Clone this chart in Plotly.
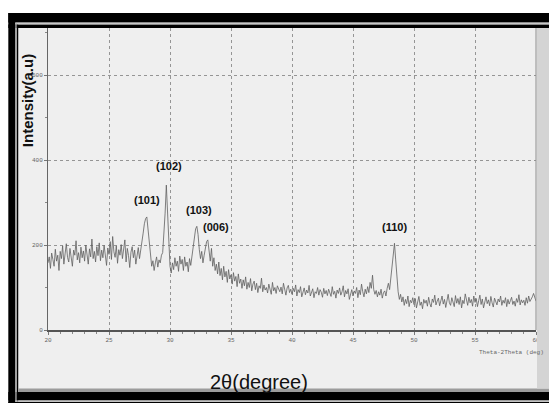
import numpy as np
import plotly.graph_objects as go

# 2-theta from 20.0 to 60.0 in 0.1 degree steps
two_theta_start = 20.0
two_theta_step = 0.1
intensity = [
    158, 172, 145, 181, 166, 150, 190, 162, 176, 140,   # 20
    185, 168, 198, 155, 179, 203, 171, 160, 192, 174,   # 21
    150, 188, 176, 210, 165, 182, 158, 195, 170, 186,   # 22
    162, 200, 178, 155, 191, 172, 214, 168, 185, 160,   # 23
    196, 175, 205, 163, 188, 170, 199, 181, 152, 193,   # 24
    178, 208, 166, 220, 184, 171, 198, 157, 189, 176,   # 25
    201, 168, 185, 212, 160, 192, 175, 147, 183, 196,   # 26
    170, 188, 155, 176, 194, 168, 185, 205, 228, 250,   # 27
    262, 266, 240, 205, 172, 150, 163, 140, 158, 172,   # 28
    148, 165, 158, 176, 182, 220, 275, 341, 285, 200,   # 29
    150, 134, 158, 142, 170, 150, 162, 138, 174, 155,   # 30
    166, 140, 172, 150, 160, 137, 168, 152, 175, 190,   # 31
    215, 238, 244, 225, 190, 168, 185, 158, 176, 196,   # 32
    208, 212, 180, 162, 192, 150, 170, 140, 155, 132,   # 33
    160, 128, 145, 118, 150, 125, 138, 112, 142, 120,   # 34
    130, 108, 135, 115, 126, 102, 132, 110, 120, 98,    # 35
    118, 104, 125, 96, 112, 100, 121, 92, 108, 115,     # 36
    95, 110, 88, 104, 98, 122, 90, 106, 94, 100,        # 37
    87, 108, 96, 84, 112, 92, 100, 86, 104, 95,         # 38
    90, 101, 85, 110, 93, 82, 99, 105, 88, 96,          # 39
    84, 98, 90, 106, 80, 95, 88, 102, 78, 92,           # 40
    99, 83, 94, 87, 105, 80, 92, 97, 76, 90,            # 41
    86, 100, 82, 95, 89, 77, 98, 85, 93, 81,            # 42
    96, 88, 79, 102, 84, 91, 75, 94, 86, 99,            # 43
    82, 90, 104, 78, 93, 85, 97, 72, 88, 95,            # 44
    80, 92, 86, 100, 76, 94, 83, 108, 90, 78,           # 45
    96, 85, 102, 88, 112, 98, 129, 95, 84, 93,          # 46
    78, 90, 82, 96, 75, 88, 92, 80, 98, 110,            # 47
    95, 120, 158, 185, 204, 165, 118, 90, 72, 84,       # 48
    66, 78, 58, 72, 62, 80, 55, 70, 64, 76,             # 49
    60, 74, 52, 68, 79, 58, 66, 50, 72, 63,             # 50
    70, 56, 77, 62, 54, 73, 65, 82, 59, 68,             # 51
    75, 57, 66, 80, 61, 72, 53, 69, 84, 64,             # 52
    58, 76, 67, 55, 81, 63, 74, 60, 78, 52,             # 53
    70, 62, 85, 66, 58, 77, 64, 72, 56, 80,             # 54
    65, 74, 55, 69, 82, 60, 73, 52, 67, 78,             # 55
    62, 71, 57, 79, 64, 54, 75, 68, 59, 73,             # 56
    66, 80, 58, 70, 63, 76, 55, 72, 61, 69,             # 57
    77, 60, 68, 56, 74, 65, 83, 59, 71, 64,             # 58
    70, 58, 76, 63, 80, 67, 72, 78, 86, 74,             # 59
    68,                                                 # 60
]
two_theta = [round(two_theta_start + i * two_theta_step, 1) for i in range(len(intensity))]

peak_labels = ["(101)", "(102)", "(103)", "(006)", "(110)"]
peak_label_x = [28.1, 29.9, 32.4, 33.8, 48.4]
peak_label_y = [306, 386, 282, 242, 242]

x_ticks = [20, 25, 30, 35, 40, 45, 50, 55, 60]
y_ticks = [0, 200, 400, 600]

W, H = 549, 403
ML, MR, MT, MB = 48, 9, 28, 73
PW, PH = W - ML - MR, H - MT - MB


def fx(p):
    return (p - ML) / PW


def fy(p):
    return (H - MB - p) / PH


fig = go.Figure()
fig.add_trace(go.Scatter(
    x=two_theta, y=intensity, mode="lines",
    line=dict(color="#606060", width=0.8),
    hoverinfo="skip", showlegend=False,
))


def rect(x0, x1, y0, y1, color, layer="below"):
    return dict(type="rect", xref="paper", yref="paper", layer=layer,
                x0=fx(x0), x1=fx(x1), y0=fy(y0), y1=fy(y1),
                fillcolor=color, line=dict(width=0))


shapes = [
    # white margin outside the scanned frame
    rect(0, 560, -5, 13, "white"),
    rect(-5, 8, -5, 410, "white"),
    # black frame bands
    rect(8, 560, 13, 22.5, "black"),
    rect(8, 560, 24.5, 28, "black"),
    rect(8, 15, 13, 410, "black"),
    rect(16.5, 18, 24.5, 410, "black"),
    rect(8, 560, 392, 400.5, "black"),
    rect(8, 560, 401.8, 410, "black"),
    # bottom gray band
    rect(18, 560, 388.5, 392, "#9c9c9c"),
    # right shading (scan edge)
    rect(541, 560, 28, 388.5, "#d4d4d4", layer="above"),
]
shapes.append(dict(type="line", xref="paper", yref="paper", layer="below",
                   x0=fx(15), x1=fx(560), y0=fy(23.5), y1=fy(23.5),
                   line=dict(color="#c8c8c8", width=1.5)))
shapes.append(dict(type="line", xref="paper", yref="paper", layer="below",
                   x0=fx(15.7), x1=fx(15.7), y0=fy(23.5), y1=fy(401),
                   line=dict(color="#9a9a9a", width=1.5)))
shapes.append(dict(type="line", xref="paper", yref="paper", layer="below",
                   x0=fx(15), x1=fx(560), y0=fy(401.2), y1=fy(401.2),
                   line=dict(color="#c8c8c8", width=1.2)))
# right plot border
shapes.append(dict(type="line", xref="paper", yref="paper", layer="above",
                   x0=1, x1=1, y0=0, y1=1,
                   line=dict(color="#8c8c8c", width=1)))

annotations = []
for t, xv, yv in zip(peak_labels, peak_label_x, peak_label_y):
    annotations.append(dict(x=xv, y=yv, xref="x", yref="y", text="<b>" + t + "</b>",
                            showarrow=False,
                            font=dict(family="Liberation Sans Narrow, Liberation Sans, Arial",
                                      size=11, color="#111111"),
                            xanchor="center", yanchor="middle"))
annotations.append(dict(x=fx(261), y=fy(382), xref="paper", yref="paper",
                        text="2θ(degree)", showarrow=False,
                        font=dict(family="Liberation Sans Narrow, Liberation Sans, Arial",
                                  size=20, color="#111111"),
                        xanchor="center", yanchor="middle"))
annotations.append(dict(x=fx(27), y=fy(101), xref="paper", yref="paper",
                        text="<b>Intensity(a.u)</b>", showarrow=False, textangle=-90,
                        font=dict(family="Liberation Sans, Arial", size=15, color="#111111"),
                        xanchor="center", yanchor="middle"))
annotations.append(dict(x=fx(515), y=fy(352), xref="paper", yref="paper",
                        text="Theta-2Theta (deg)", showarrow=False,
                        font=dict(family="Liberation Mono, DejaVu Sans Mono", size=6,
                                  color="#666666"),
                        xanchor="center", yanchor="middle"))

fig.update_layout(
    width=W, height=H,
    margin=dict(l=ML, r=MR, t=MT, b=MB, pad=0),
    paper_bgcolor="#efefef",
    plot_bgcolor="rgba(0,0,0,0)",
    shapes=shapes,
    annotations=annotations,
    showlegend=False,
    xaxis=dict(
        range=[20, 60], tickvals=x_ticks, ticktext=[str(v) for v in x_ticks],
        showgrid=True, gridcolor="#959595", griddash="3px,3px", gridwidth=1,
        showline=True, linecolor="#555555", linewidth=2,
        ticks="outside", ticklen=3, tickcolor="#777777",
        minor=dict(dtick=1, ticks="outside", ticklen=2, tickcolor="#888888", showgrid=False),
        tickfont=dict(family="Liberation Mono, DejaVu Sans Mono", size=6, color="#666666"),
        zeroline=False, fixedrange=True,
    ),
    yaxis=dict(
        range=[0, PH / 0.425], tickvals=y_ticks, ticktext=[str(v) for v in y_ticks],
        showgrid=True, gridcolor="#959595", griddash="3px,3px", gridwidth=1,
        showline=True, linecolor="#666666", linewidth=1,
        ticks="outside", ticklen=3, tickcolor="#777777",
        minor=dict(dtick=100, ticks="outside", ticklen=2, tickcolor="#888888", showgrid=False),
        tickfont=dict(family="Liberation Mono, DejaVu Sans Mono", size=6, color="#666666"),
        zeroline=False, fixedrange=True,
    ),
)

fig.write_html("out.html")
